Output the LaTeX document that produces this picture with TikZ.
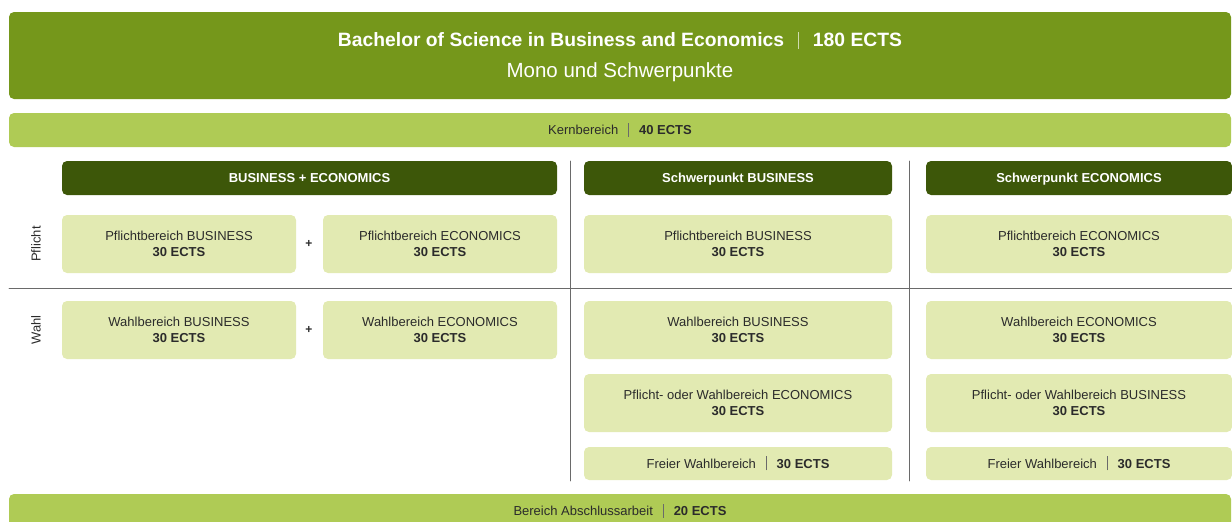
\documentclass[tikz,border=0pt]{standalone}
\usepackage{fontspec}
\setmainfont{Liberation Sans}
\definecolor{hdrgreen}{HTML}{75971B}
\definecolor{barlime}{HTML}{AFCB55}
\definecolor{darkolive}{HTML}{3D5709}
\definecolor{paleolive}{HTML}{E2EAB2}
\definecolor{inkgray}{HTML}{2B2B2B}
\definecolor{rulegray}{HTML}{6A6A6A}
\colorlet{lightsep}{white!65!hdrgreen}
\newcommand{\ectsbar}[3][10pt]{\hspace{#1}{\color{#2}\rule[-2pt]{0.8pt}{#3}}\hspace{#1}}
\begin{document}
\begin{tikzpicture}[x=1pt,y=-1pt,line cap=round,line join=round,
	band/.style={rounded corners=5pt,inner sep=0pt,font=\fontsize{13}{16}\selectfont,text=inkgray},
	oneline/.style={text height=9.5pt,text depth=0pt},
	topband/.style={band,fill=hdrgreen,text=white,minimum width=1222,minimum height=87,align=center,font=\fontsize{19.3}{31}\selectfont},
	limeband/.style={band,oneline,fill=barlime,minimum width=1222,minimum height=34},
	colhead/.style={band,oneline,fill=darkolive,text=white,minimum height=34,font=\fontsize{13}{16}\selectfont\bfseries},
	cell/.style={band,fill=paleolive,minimum height=58,align=center},
	slimcell/.style={band,oneline,fill=paleolive,minimum height=33},
	rowlabel/.style={rotate=90,font=\fontsize{13}{16}\selectfont,text=inkgray},
	plus/.style={font=\fontsize{12}{14}\selectfont\bfseries,text=inkgray},
	divider/.style={draw=rulegray,line width=0.8pt}]
	\useasboundingbox (0,0) rectangle (1232,522);
	\clip (0,0) rectangle (1232,522);
	\node[topband] (hdr) at (620,55.5) {\rule{0pt}{18pt}\textbf{Bachelor of Science in Business and Economics}\ectsbar[14pt]{lightsep}{17pt}\textbf{180 ECTS}\\\fontsize{20.5}{31}\selectfont Mono und Schwerpunkte};
	\node[limeband] (kern) at (620,130) {Kernbereich\ectsbar{rulegray}{14pt}\textbf{40 ECTS}};
	\node[colhead,minimum width=495] (hbe) at (309.5,178) {BUSINESS + ECONOMICS};
	\node[colhead,minimum width=308] (hbus) at (738,178) {Schwerpunkt BUSINESS};
	\node[colhead,minimum width=306] (heco) at (1079,178) {Schwerpunkt ECONOMICS};
	\draw[divider] (570,161) -- (570,481);
	\draw[divider] (909,161) -- (909,481);
	\draw[divider] (9,288) -- (1232,288);
	\node[rowlabel] (lpflicht) at (36,244) {Pflicht};
	\node[rowlabel] (lwahl) at (36,330) {Wahl};
	\node[cell,minimum width=234] (pbus) at (179,244) {Pflichtbereich BUSINESS\\\textbf{30 ECTS}};
	\node[plus] (plusp) at (309,244) {+};
	\node[cell,minimum width=234] (peco) at (440,244) {Pflichtbereich ECONOMICS\\\textbf{30 ECTS}};
	\node[cell,minimum width=308] (spbus) at (738,244) {Pflichtbereich BUSINESS\\\textbf{30 ECTS}};
	\node[cell,minimum width=306] (speco) at (1079,244) {Pflichtbereich ECONOMICS\\\textbf{30 ECTS}};
	\node[cell,minimum width=234] (wbus) at (179,330) {Wahlbereich BUSINESS\\\textbf{30 ECTS}};
	\node[plus] (plusw) at (309,330) {+};
	\node[cell,minimum width=234] (weco) at (440,330) {Wahlbereich ECONOMICS\\\textbf{30 ECTS}};
	\node[cell,minimum width=308] (swbus) at (738,330) {Wahlbereich BUSINESS\\\textbf{30 ECTS}};
	\node[cell,minimum width=306] (sweco) at (1079,330) {Wahlbereich ECONOMICS\\\textbf{30 ECTS}};
	\node[cell,minimum width=308] (spweco) at (738,403) {Pflicht- oder Wahlbereich ECONOMICS\\\textbf{30 ECTS}};
	\node[cell,minimum width=306] (spwbus) at (1079,403) {Pflicht- oder Wahlbereich BUSINESS\\\textbf{30 ECTS}};
	\node[slimcell,minimum width=308] (sfrei) at (738,463.5) {Freier Wahlbereich\ectsbar{rulegray}{14pt}\textbf{30 ECTS}};
	\node[slimcell,minimum width=306] (efrei) at (1079,463.5) {Freier Wahlbereich\ectsbar{rulegray}{14pt}\textbf{30 ECTS}};
	\node[limeband] (thesis) at (620,511) {Bereich Abschlussarbeit\ectsbar{rulegray}{14pt}\textbf{20 ECTS}};
\end{tikzpicture}
\end{document}
